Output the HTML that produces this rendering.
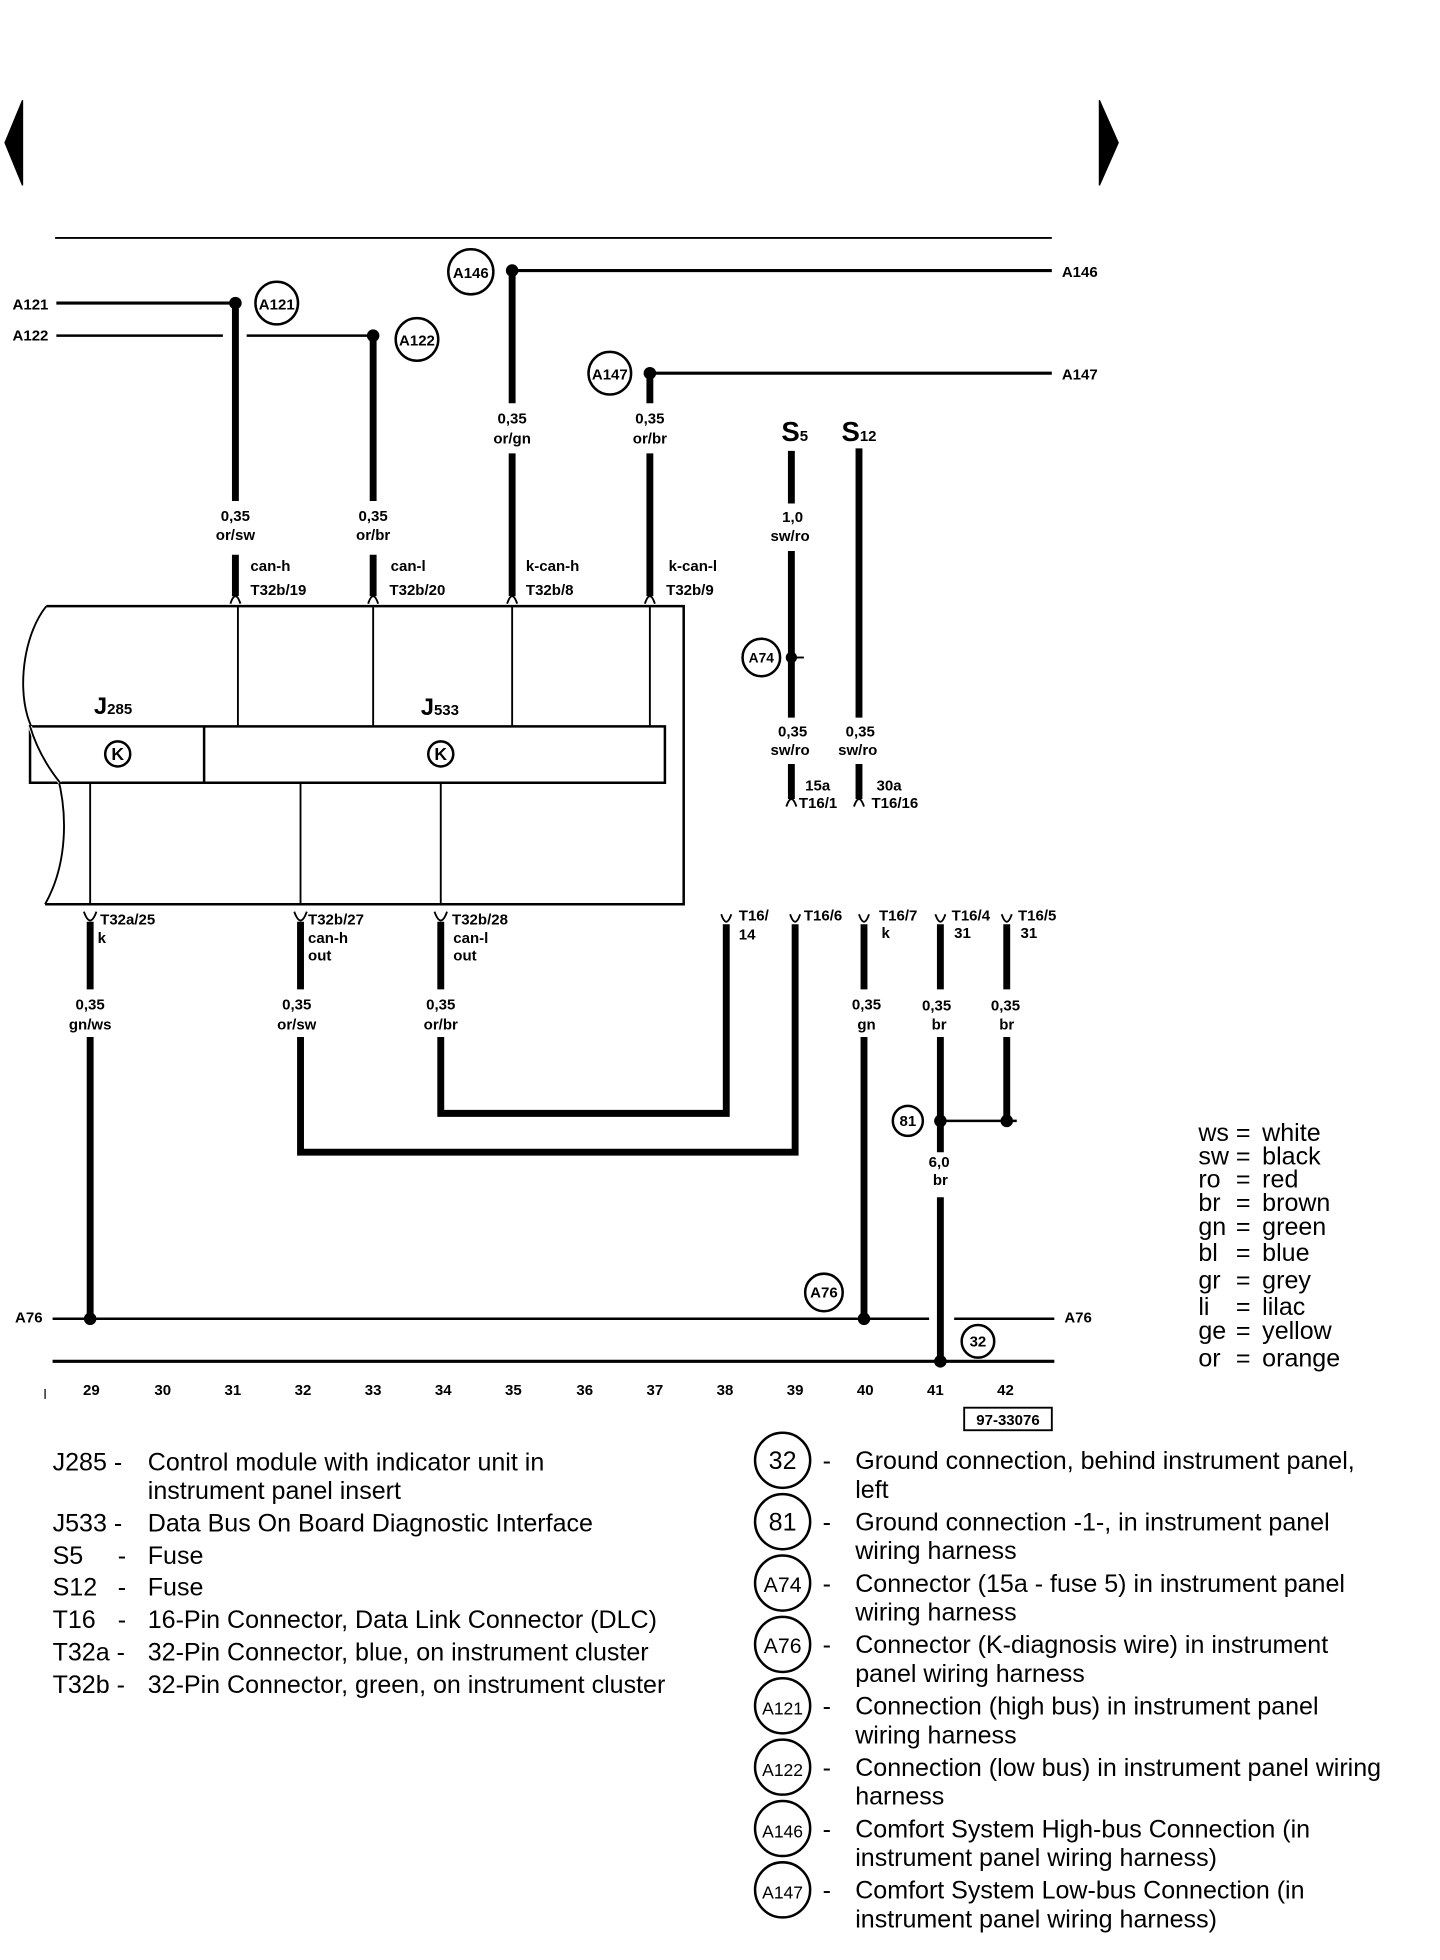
<!DOCTYPE html>
<html><head><meta charset="utf-8"><style>
html,body{margin:0;padding:0;background:#fff;}
svg{display:block;}
.b{font-family:"Liberation Sans",sans-serif;font-weight:bold;font-size:12px;fill:#000;}
.c{text-anchor:middle;}
.n{font-family:"Liberation Sans",sans-serif;font-size:20px;fill:#000;}
</style></head><body>
<svg width="1440" height="1960" viewBox="0 0 1150 1565" preserveAspectRatio="none" xmlns="http://www.w3.org/2000/svg">
<g stroke="#000" fill="none">
<polygon points="18,80 18,148 4,114" fill="#000"/>
<polygon points="878,80 878,148 893,114" fill="#000"/>
<line x1="44" y1="190" x2="840" y2="190" stroke-width="1.5"/>
<line x1="45" y1="242" x2="188" y2="242" stroke-width="2.5"/>
<line x1="45" y1="268" x2="178" y2="268" stroke-width="2"/>
<line x1="197" y1="268" x2="298" y2="268" stroke-width="2"/>
<circle cx="221" cy="242" r="17" stroke-width="2"/>
<circle cx="333" cy="271" r="17" stroke-width="2"/>
<line x1="409" y1="216" x2="840" y2="216" stroke-width="2.5"/>
<line x1="519" y1="298" x2="840" y2="298" stroke-width="2.5"/>
<circle cx="376" cy="217" r="18" stroke-width="2"/>
<circle cx="487" cy="298" r="17" stroke-width="2"/>
<g stroke-width="5.5">
<line x1="188" y1="242" x2="188" y2="400"/><line x1="188" y1="443" x2="188" y2="476"/>
<line x1="298" y1="268" x2="298" y2="400"/><line x1="298" y1="443" x2="298" y2="476"/>
<line x1="409" y1="216" x2="409" y2="322"/><line x1="409" y1="362" x2="409" y2="476"/>
<line x1="519" y1="298" x2="519" y2="322"/><line x1="519" y1="362" x2="519" y2="476"/>
</g>
<g stroke-width="1.5">
<path d="M184,482 Q188,470 192,482"/><path d="M294,482 Q298,470 302,482"/>
<path d="M405,482 Q409,470 413,482"/><path d="M515,482 Q519,470 523,482"/>
</g>
<path d="M37,484 L546,484 L546,722 L36,722" stroke-width="2"/>
<path d="M37,484 C20,505 14,545 22,572 C28,592 40,600 46,620 C54,650 54,690 36,722" stroke-width="1.5"/>
<rect x="24" y="580" width="507" height="45" stroke-width="2" fill="#fff"/>
<line x1="163" y1="580" x2="163" y2="625" stroke-width="2"/>
<path d="M24,580 C30,600 40,615 48,625" stroke="#fff" stroke-width="3"/>
<path d="M24,580 C30,600 40,615 48,625" stroke-width="1.5"/>
<g stroke-width="1.5">
<line x1="190" y1="484" x2="190" y2="580"/><line x1="298" y1="484" x2="298" y2="580"/>
<line x1="409" y1="484" x2="409" y2="580"/><line x1="519" y1="484" x2="519" y2="580"/>
<line x1="72" y1="625" x2="72" y2="722"/><line x1="240" y1="625" x2="240" y2="722"/>
<line x1="352" y1="625" x2="352" y2="722"/>
</g>
<circle cx="94" cy="602" r="10" stroke-width="2"/>
<circle cx="352" cy="602" r="10" stroke-width="2"/>
<g stroke-width="5.5">
<line x1="72" y1="736" x2="72" y2="790"/><line x1="72" y1="828" x2="72" y2="1053"/>
<line x1="240" y1="736" x2="240" y2="790"/><polyline points="240,828 240,920 635,920 635,738"/>
<line x1="352" y1="736" x2="352" y2="790"/><polyline points="352,828 352,889 580,889 580,738"/>
<line x1="690" y1="738" x2="690" y2="790"/><line x1="690" y1="828" x2="690" y2="1053"/>
<line x1="751" y1="738" x2="751" y2="790"/><line x1="751" y1="828" x2="751" y2="920"/><line x1="751" y1="956" x2="751" y2="1087"/>
<line x1="804" y1="738" x2="804" y2="790"/><line x1="804" y1="828" x2="804" y2="895"/>
</g>
<g stroke-width="1.5">
<path d="M67,728 Q72,742 77,728"/><path d="M235,728 Q240,742 245,728"/><path d="M347,728 Q352,742 357,728"/>
<path d="M576,730 Q580,742 584,730"/><path d="M631,730 Q635,742 639,730"/><path d="M686,730 Q690,742 694,730"/>
<path d="M747,730 Q751,742 755,730"/><path d="M800,730 Q804,742 808,730"/>
</g>
<line x1="751" y1="895" x2="812" y2="895" stroke-width="2"/>
<circle cx="725" cy="895" r="12" stroke-width="2"/>
<circle cx="658" cy="1032" r="15" stroke-width="2"/>
<circle cx="781" cy="1071" r="13" stroke-width="2"/>
<line x1="42" y1="1053" x2="742" y2="1053" stroke-width="2"/>
<line x1="762" y1="1053" x2="842" y2="1053" stroke-width="2"/>
<line x1="42" y1="1087" x2="842" y2="1087" stroke-width="2.5"/>
<line x1="36" y1="1109" x2="36" y2="1117" stroke-width="1"/>
<rect x="770" y="1124" width="70" height="18" stroke-width="1.5"/>
<g stroke-width="5.5">
<line x1="632" y1="360" x2="632" y2="402"/><line x1="632" y1="440" x2="632" y2="573"/><line x1="632" y1="610" x2="632" y2="638"/>
<line x1="686" y1="358" x2="686" y2="573"/><line x1="686" y1="610" x2="686" y2="638"/>
</g>
<path d="M628,644 Q632,632 636,644" stroke-width="1.5"/><path d="M682,644 Q686,632 690,644" stroke-width="1.5"/>
<circle cx="608" cy="525" r="15" stroke-width="2"/>
<line x1="632" y1="525" x2="642" y2="525" stroke-width="1.5"/>
<g stroke-width="2">
<circle cx="625" cy="1166" r="22"/><circle cx="625" cy="1215" r="22"/><circle cx="625" cy="1264" r="22"/>
<circle cx="625" cy="1313" r="22"/><circle cx="625" cy="1362" r="22"/><circle cx="625" cy="1411" r="22"/>
<circle cx="625" cy="1460" r="22"/><circle cx="625" cy="1509" r="22"/>
</g>
</g>
<g fill="#000">
<circle cx="188" cy="242" r="5"/><circle cx="298" cy="268" r="5"/><circle cx="409" cy="216" r="5"/><circle cx="519" cy="298" r="5"/>
<circle cx="72" cy="1053" r="5"/><circle cx="690" cy="1053" r="5"/><circle cx="751" cy="1087" r="5"/>
<circle cx="751" cy="895" r="5"/><circle cx="804" cy="895" r="5"/><circle cx="632" cy="525" r="4.5"/>
</g>
<g class="b">
<text x="10" y="247">A121</text><text x="10" y="272">A122</text>
<text x="221" y="247" class="c">A121</text><text x="333" y="276" class="c">A122</text>
<text x="376" y="222" class="c">A146</text><text x="487" y="303" class="c">A147</text>
<text x="848" y="221">A146</text><text x="848" y="303">A147</text>
<text x="188" y="416" class="c">0,35</text><text x="188" y="431" class="c">or/sw</text>
<text x="298" y="416" class="c">0,35</text><text x="298" y="431" class="c">or/br</text>
<text x="409" y="338" class="c">0,35</text><text x="409" y="354" class="c">or/gn</text>
<text x="519" y="338" class="c">0,35</text><text x="519" y="354" class="c">or/br</text>
<text x="200" y="456">can-h</text><text x="200" y="475">T32b/19</text>
<text x="312" y="456">can-l</text><text x="311" y="475">T32b/20</text>
<text x="420" y="456">k-can-h</text><text x="420" y="475">T32b/8</text>
<text x="534" y="456">k-can-l</text><text x="532" y="475">T32b/9</text>
<text x="75" y="570" style="font-size:19px">J<tspan style="font-size:12px">285</tspan></text>
<text x="336" y="571" style="font-size:19px">J<tspan style="font-size:12px">533</tspan></text>
<text x="94" y="607" class="c" style="font-size:14px">K</text><text x="352" y="607" class="c" style="font-size:14px">K</text>
<text x="80" y="738">T32a/25</text><text x="78" y="753">k</text>
<text x="246" y="738">T32b/27</text><text x="246" y="753">can-h</text><text x="246" y="767">out</text>
<text x="361" y="738">T32b/28</text><text x="362" y="753">can-l</text><text x="362" y="767">out</text>
<text x="72" y="806" class="c">0,35</text><text x="72" y="822" class="c">gn/ws</text>
<text x="237" y="806" class="c">0,35</text><text x="237" y="822" class="c">or/sw</text>
<text x="352" y="806" class="c">0,35</text><text x="352" y="822" class="c">or/br</text>
<text x="590" y="735">T16/</text><text x="590" y="750">14</text>
<text x="642" y="735">T16/6</text>
<text x="702" y="735">T16/7</text><text x="704" y="749">k</text>
<text x="760" y="735">T16/4</text><text x="762" y="749">31</text>
<text x="813" y="735">T16/5</text><text x="815" y="749">31</text>
<text x="692" y="806" class="c">0,35</text><text x="692" y="822" class="c">gn</text>
<text x="748" y="807" class="c">0,35</text><text x="750" y="822" class="c">br</text>
<text x="803" y="807" class="c">0,35</text><text x="804" y="822" class="c">br</text>
<text x="725" y="899" class="c">81</text>
<text x="750" y="932" class="c">6,0</text><text x="751" y="946" class="c">br</text>
<text x="658" y="1036" class="c">A76</text>
<text x="12" y="1056">A76</text><text x="850" y="1056">A76</text>
<text x="781" y="1075" class="c">32</text>
<text x="73" y="1114" class="c">29</text><text x="130" y="1114" class="c">30</text><text x="186" y="1114" class="c">31</text>
<text x="242" y="1114" class="c">32</text><text x="298" y="1114" class="c">33</text><text x="354" y="1114" class="c">34</text>
<text x="410" y="1114" class="c">35</text><text x="467" y="1114" class="c">36</text><text x="523" y="1114" class="c">37</text>
<text x="579" y="1114" class="c">38</text><text x="635" y="1114" class="c">39</text><text x="691" y="1114" class="c">40</text>
<text x="747" y="1114" class="c">41</text><text x="803" y="1114" class="c">42</text>
<text x="805" y="1138" class="c">97-33076</text>
<text x="624" y="352" style="font-size:22px">S<tspan style="font-size:12px">5</tspan></text>
<text x="672" y="352" style="font-size:22px">S<tspan style="font-size:12px">12</tspan></text>
<text x="633" y="417" class="c">1,0</text><text x="631" y="432" class="c">sw/ro</text>
<text x="608" y="529" class="c" style="font-size:11px">A74</text>
<text x="633" y="588" class="c">0,35</text><text x="631" y="603" class="c">sw/ro</text>
<text x="687" y="588" class="c">0,35</text><text x="685" y="603" class="c">sw/ro</text>
<text x="643" y="631">15a</text><text x="638" y="645">T16/1</text>
<text x="700" y="631">30a</text><text x="696" y="645">T16/16</text>
</g>
<g class="n">
<text x="957" y="911">ws</text><text x="987" y="911">=</text><text x="1008" y="911">white</text>
<text x="957" y="930">sw</text><text x="987" y="930">=</text><text x="1008" y="930">black</text>
<text x="957" y="948">ro</text><text x="987" y="948">=</text><text x="1008" y="948">red</text>
<text x="957" y="967">br</text><text x="987" y="967">=</text><text x="1008" y="967">brown</text>
<text x="957" y="986">gn</text><text x="987" y="986">=</text><text x="1008" y="986">green</text>
<text x="957" y="1007">bl</text><text x="987" y="1007">=</text><text x="1008" y="1007">blue</text>
<text x="957" y="1029">gr</text><text x="987" y="1029">=</text><text x="1008" y="1029">grey</text>
<text x="957" y="1050">li</text><text x="987" y="1050">=</text><text x="1008" y="1050">lilac</text>
<text x="957" y="1069">ge</text><text x="987" y="1069">=</text><text x="1008" y="1069">yellow</text>
<text x="957" y="1091">or</text><text x="987" y="1091">=</text><text x="1008" y="1091">orange</text>
</g>
<g class="n">
<text x="42" y="1174">J285 -</text><text x="118" y="1174">Control module with indicator unit in</text>
<text x="118" y="1197">instrument panel insert</text>
<text x="42" y="1223">J533 -</text><text x="118" y="1223">Data Bus On Board Diagnostic Interface</text>
<text x="42" y="1249">S5</text><text x="94" y="1249">-</text><text x="118" y="1249">Fuse</text>
<text x="42" y="1274">S12</text><text x="94" y="1274">-</text><text x="118" y="1274">Fuse</text>
<text x="42" y="1300">T16</text><text x="94" y="1300">-</text><text x="118" y="1300">16-Pin Connector, Data Link Connector (DLC)</text>
<text x="42" y="1326">T32a -</text><text x="118" y="1326">32-Pin Connector, blue, on instrument cluster</text>
<text x="42" y="1352">T32b -</text><text x="118" y="1352">32-Pin Connector, green, on instrument cluster</text>

<text x="625" y="1173" text-anchor="middle">32</text>
<text x="625" y="1222" text-anchor="middle">81</text>
<text x="625" y="1271" text-anchor="middle" style="font-size:17px">A74</text>
<text x="625" y="1320" text-anchor="middle" style="font-size:17px">A76</text>
<text x="625" y="1369" text-anchor="middle" style="font-size:14px">A121</text>
<text x="625" y="1418" text-anchor="middle" style="font-size:14px">A122</text>
<text x="625" y="1467" text-anchor="middle" style="font-size:14px">A146</text>
<text x="625" y="1516" text-anchor="middle" style="font-size:14px">A147</text>
<text x="657" y="1173">-</text><text x="657" y="1222">-</text><text x="657" y="1271">-</text><text x="657" y="1320">-</text>
<text x="657" y="1369">-</text><text x="657" y="1418">-</text><text x="657" y="1467">-</text><text x="657" y="1516">-</text>
<text x="683" y="1173">Ground connection, behind instrument panel,</text><text x="683" y="1196">left</text>
<text x="683" y="1222">Ground connection -1-, in instrument panel</text><text x="683" y="1245">wiring harness</text>
<text x="683" y="1271">Connector (15a - fuse 5) in instrument panel</text><text x="683" y="1294">wiring harness</text>
<text x="683" y="1320">Connector (K-diagnosis wire) in instrument</text><text x="683" y="1343">panel wiring harness</text>
<text x="683" y="1369">Connection (high bus) in instrument panel</text><text x="683" y="1392">wiring harness</text>
<text x="683" y="1418">Connection (low bus) in instrument panel wiring</text><text x="683" y="1441">harness</text>
<text x="683" y="1467">Comfort System High-bus Connection (in</text><text x="683" y="1490">instrument panel wiring harness)</text>
<text x="683" y="1516">Comfort System Low-bus Connection (in</text><text x="683" y="1539">instrument panel wiring harness)</text>
</g>
</svg>
</body></html>
